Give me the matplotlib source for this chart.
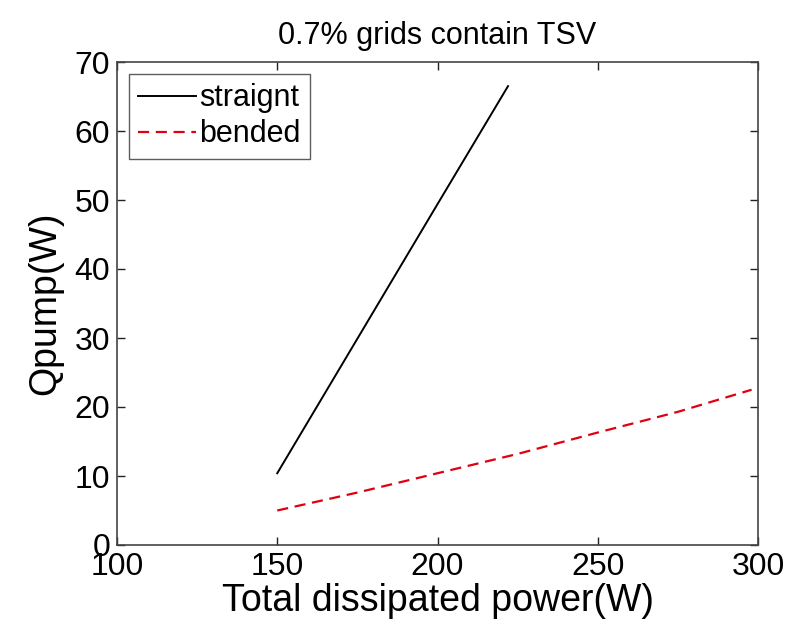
import numpy as np
import matplotlib
matplotlib.use('Agg')
import matplotlib.pyplot as plt

plt.rcParams['font.family'] = ['Liberation Sans', 'DejaVu Sans']

# 数据
power_straight = [150, 175, 200, 222]
qpump_straight = [10.4, 29.9, 49.4, 66.5]
power_bended = [150, 175, 200, 225, 250, 275, 298]
qpump_bended = [5.0, 7.6, 10.4, 13.2, 16.3, 19.3, 22.5]

fig = plt.figure(figsize=(8.02, 6.26), dpi=100)
ax = fig.add_axes([117 / 802, 1 - 545 / 626, (758 - 117) / 802, (545 - 62) / 626])

ax.plot(power_straight, qpump_straight, color='k', lw=1.4, label='straignt')
ax.plot(power_bended, qpump_bended, color='#e00010', lw=1.6, dashes=(5, 3), label='bended')

ax.set_xlim(100, 300)
ax.set_ylim(0, 70)
ax.set_xticks([100, 150, 200, 250, 300])
ax.set_yticks(np.arange(0, 71, 10))
ax.tick_params(direction='in', length=6, width=1, top=True, right=True,
               labelsize=23, pad=5, colors='#222222', labelcolor='k')
for s in ax.spines.values():
    s.set_color('#444444')
    s.set_linewidth(1.2)

ax.set_title('0.7% grids contain TSV', fontsize=22, pad=13)
ax.set_xlabel('Total dissipated power(W)', fontsize=27, labelpad=1)
ax.set_ylabel('Qpump(W)', fontsize=27, labelpad=8)

leg = ax.legend(loc='upper left', fontsize=22, frameon=True, fancybox=False,
                handlelength=1.9, handletextpad=0.1, borderpad=0.3,
                labelspacing=0.2, borderaxespad=0.4)
leg.get_frame().set_edgecolor('#333333')
leg.get_frame().set_linewidth(1.0)

fig.savefig('out.png', dpi=100)
